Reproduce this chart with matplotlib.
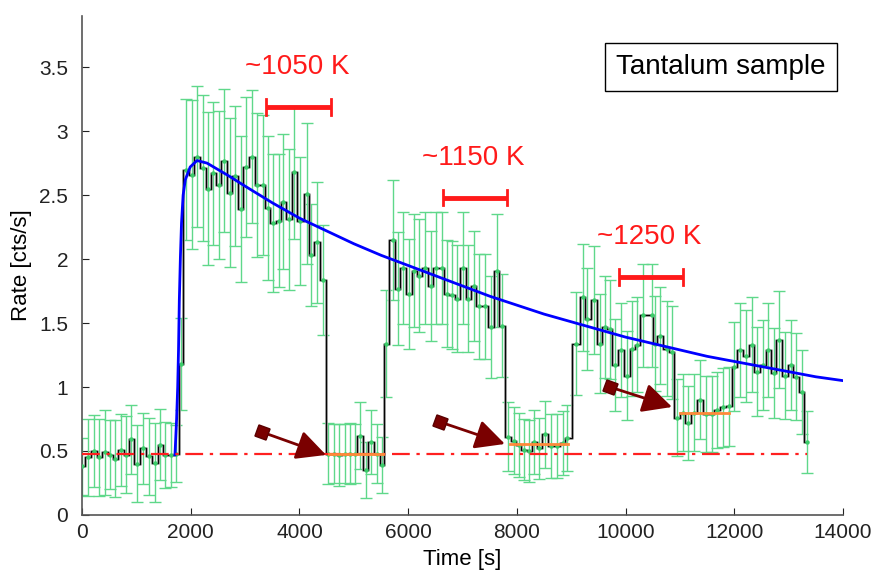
import matplotlib
matplotlib.use("Agg")
import matplotlib.pyplot as plt
from matplotlib.patches import FancyArrowPatch
from matplotlib.ticker import FormatStrFormatter

plt.rcParams['font.family'] = ['Liberation Sans', 'DejaVu Sans']

# Measured count rate (bin centre time, rate, 1-sigma error)
time_s = [0, 110, 220, 313, 423, 515, 607, 717, 809, 901, 1012, 1122, 1233, 1343, 1435, 1527, 1637, 1730,
          1820,
          1913, 2020, 2115, 2225, 2320, 2410, 2520, 2610, 2720, 2815, 2925, 3015, 3130, 3220, 3330, 3420,
          3510, 3620, 3700, 3810, 3900, 4010, 4140, 4210, 4320, 4430,
          4530, 4640, 4730, 4840, 4930, 5020, 5110, 5220, 5320, 5430, 5520,
          5590,
          5720, 5810, 5900, 6015, 6110, 6200, 6310, 6420, 6510, 6620, 6710, 6810, 6900, 7010, 7110, 7210,
          7300, 7410, 7520, 7630, 7730,
          7840, 7940, 8040, 8130, 8230, 8320, 8410, 8520, 8620, 8730, 8840, 8930,
          9090, 9220, 9290, 9420, 9530, 9620, 9710, 9800, 9915, 10025, 10120, 10210, 10320, 10480, 10540,
          10630, 10760, 10850,
          10940, 11050, 11150, 11260, 11370, 11480, 11590, 11680, 11790, 11900,
          12000, 12100, 12210, 12320, 12420, 12530, 12620, 12730, 12820, 12930, 13040, 13130, 13240, 13330]

rate = [0.38, 0.45, 0.50, 0.45, 0.49, 0.47, 0.44, 0.51, 0.47, 0.59, 0.40, 0.52, 0.46, 0.41, 0.55, 0.47, 0.47, 0.48,
        1.18,
        2.70, 2.66, 2.80, 2.71, 2.55, 2.67, 2.58, 2.77, 2.52, 2.65, 2.39, 2.72, 2.80, 2.58, 2.58, 2.40,
        2.28, 2.30, 2.45, 2.31, 2.68, 2.30, 2.51, 2.03, 2.13, 1.84,
        0.48, 0.48, 0.47, 0.48, 0.48, 0.48, 0.62, 0.35, 0.57, 0.48, 0.39,
        1.34,
        2.15, 1.77, 1.93, 1.73, 1.91, 1.87, 1.93, 1.79, 1.93, 1.93, 1.73, 1.72, 1.69, 1.93, 1.69, 1.79,
        1.63, 1.63, 1.47, 1.91, 1.48,
        0.61, 0.58, 0.55, 0.51, 0.50, 0.57, 0.52, 0.63, 0.54, 0.54, 0.56, 0.60,
        1.34, 1.70, 1.53, 1.68, 1.34, 1.47, 1.45, 1.17, 1.29, 1.09, 1.30, 1.33, 1.56, 1.56, 1.34,
        1.40, 1.30, 1.27,
        0.76, 0.80, 0.72, 0.80, 0.90, 0.79, 0.79, 0.82, 0.84, 0.85,
        1.16, 1.29, 1.24, 1.33, 1.12, 1.17, 1.29, 1.11, 1.37, 1.09, 1.17, 1.08, 0.96, 0.57]

rate_err = [0.22, 0.30, 0.28, 0.30, 0.33, 0.27, 0.30, 0.28, 0.30, 0.27, 0.30, 0.28, 0.30, 0.31, 0.28, 0.26, 0.25, 0.22,
            0.36,
            0.55, 0.58, 0.55, 0.57, 0.60, 0.56, 0.58, 0.56, 0.58, 0.55, 0.57, 0.55, 0.52, 0.56, 0.55, 0.56,
            0.54, 0.52, 0.53, 0.55, 0.52, 0.50, 0.55, 0.40, 0.47, 0.43,
            0.24, 0.23, 0.24, 0.23, 0.24, 0.23, 0.26, 0.22, 0.25, 0.23, 0.22,
            0.42,
            0.47, 0.44, 0.44, 0.43, 0.44, 0.44, 0.44, 0.43, 0.44, 0.44, 0.42, 0.42, 0.42, 0.44, 0.42, 0.43,
            0.41, 0.41, 0.40, 0.44, 0.40,
            0.27, 0.26, 0.25, 0.24, 0.24, 0.25, 0.24, 0.26, 0.25, 0.25, 0.25, 0.26,
            0.40, 0.42, 0.40, 0.42, 0.39, 0.40, 0.39, 0.36, 0.37, 0.35, 0.37, 0.37, 0.40, 0.40, 0.37,
            0.38, 0.37, 0.36,
            0.30, 0.30, 0.29, 0.30, 0.31, 0.30, 0.30, 0.30, 0.31, 0.31,
            0.35, 0.37, 0.36, 0.37, 0.35, 0.35, 0.37, 0.35, 0.38, 0.34, 0.35, 0.34, 0.33, 0.24]

# Diffusion model curve
fit_t = [1710, 1740, 1760, 1775, 1790, 1810, 1830, 1860, 1900, 1990, 2115, 2300, 2500, 2700, 3000,
         3500, 4000, 4500, 5000, 5500, 6000, 6500, 7000, 7500, 8000, 8500, 9000, 9500, 10000, 10500,
         11000, 11500, 12000, 12500, 13000, 13500, 14000]
fit_rate = [0.47, 0.75, 1.00, 1.29, 1.68, 2.02, 2.28, 2.50, 2.62, 2.72, 2.77, 2.75, 2.70, 2.65, 2.57,
            2.44, 2.32, 2.22, 2.12, 2.03, 1.95, 1.87, 1.79, 1.71, 1.64, 1.57, 1.51, 1.45, 1.39, 1.34,
            1.29, 1.24, 1.20, 1.16, 1.12, 1.08, 1.05]

background = 0.475
background_end = 13330

# Plateau levels after each heating step
plateau_start = [4540, 7870, 11000]
plateau_end = [5540, 8940, 11900]
plateau_level = [0.48, 0.555, 0.80]

# Heating intervals
heat_labels = ["~1050 K", "~1150 K", "~1250 K"]
heat_start = [3385, 6640, 9880]
heat_end = [4580, 7820, 11055]
heat_y = [3.19, 2.48, 1.86]

# Arrows pointing at the plateaus: tail and head (time, rate)
arrow_tail = [(3311, 0.648), (6586, 0.727), (9713, 1.0)]
arrow_head = [(4490, 0.469), (7780, 0.555), (10855, 0.844)]

fig = plt.figure(figsize=(8.84, 5.77), dpi=100)
ax = fig.add_axes([0.0928, 0.1075, 0.8608, 0.8648])

green = '#5fd88a'
ax.errorbar(time_s, rate, yerr=rate_err, fmt='none', ecolor=green, elinewidth=1.0,
            capsize=4.5, capthick=1.0, zorder=2)
ax.plot(time_s, rate, drawstyle='steps-mid', color='#8e8e8e', lw=2.0, zorder=3)
ax.plot(time_s, rate, drawstyle='steps-mid', color='black', lw=0.7, zorder=4)
ax.plot(time_s, rate, 'o', color='#3ccc6a', ms=3.2, mec='none', zorder=5)

ax.plot(fit_t, fit_rate, color='#0000ff', lw=2.0, zorder=6)
ax.plot([0, background_end], [background, background], color='#ff2020', lw=1.6,
        dashes=(8, 3, 1.5, 3), zorder=7)

for s, e, lev in zip(plateau_start, plateau_end, plateau_level):
    ax.plot([s, e], [lev, lev], color='#ff8a3a', lw=2.0, zorder=8)

for lab, s, e, y in zip(heat_labels, heat_start, heat_end, heat_y):
    ax.plot([s, e], [y, y], color='#ff1a1a', lw=3.5, solid_capstyle='butt', zorder=8)
    ax.plot([s, s], [y - 0.06, y + 0.06], color='#ff1a1a', lw=2.0, zorder=8)
    ax.plot([e, e], [y - 0.06, y + 0.06], color='#ff1a1a', lw=2.0, zorder=8)
    ax.text((s + e) / 2 - 30, y + 0.31, lab, color='#ff1a1a', fontsize=20,
            ha='center', va='center')

for (t0, r0), (t1, r1) in zip(arrow_tail, arrow_head):
    arr = FancyArrowPatch((t0, r0), (t1, r1), arrowstyle='-|>,head_length=1.0,head_width=0.5',
                          mutation_scale=18, lw=2.0, color='#7a0000', shrinkA=0, shrinkB=0, zorder=9)
    ax.add_patch(arr)
    ax.plot(t0, r0, marker=(4, 0, 25), ms=12, color='#7a0000', mec='#5a0000', zorder=9)

ax.text(0.840, 0.898, "Tantalum sample", transform=ax.transAxes, fontsize=20,
        ha='center', va='center',
        bbox=dict(boxstyle='square,pad=0.4', fc='white', ec='black', lw=1.0))

ax.set_xlim(0, 14000)
ax.set_ylim(0, 3.9)
ax.set_xticks(range(0, 14001, 2000))
ax.set_yticks([0, 0.5, 1, 1.5, 2, 2.5, 3, 3.5])
ax.yaxis.set_major_formatter(FormatStrFormatter('%g'))
ax.tick_params(direction='in', length=5, labelsize=15, colors='#222222')
ax.tick_params(axis='y', pad=10)
ax.tick_params(axis='x', pad=6)
ax.spines['top'].set_visible(False)
ax.spines['right'].set_visible(False)
for sp in ('left', 'bottom'):
    ax.spines[sp].set_color('#555555')
    ax.spines[sp].set_linewidth(1.2)

ax.set_xlabel("Time [s]", fontsize=16, labelpad=5)
ax.set_ylabel("Rate [cts/s]", fontsize=16, labelpad=5)

fig.savefig("out.png", dpi=100)
